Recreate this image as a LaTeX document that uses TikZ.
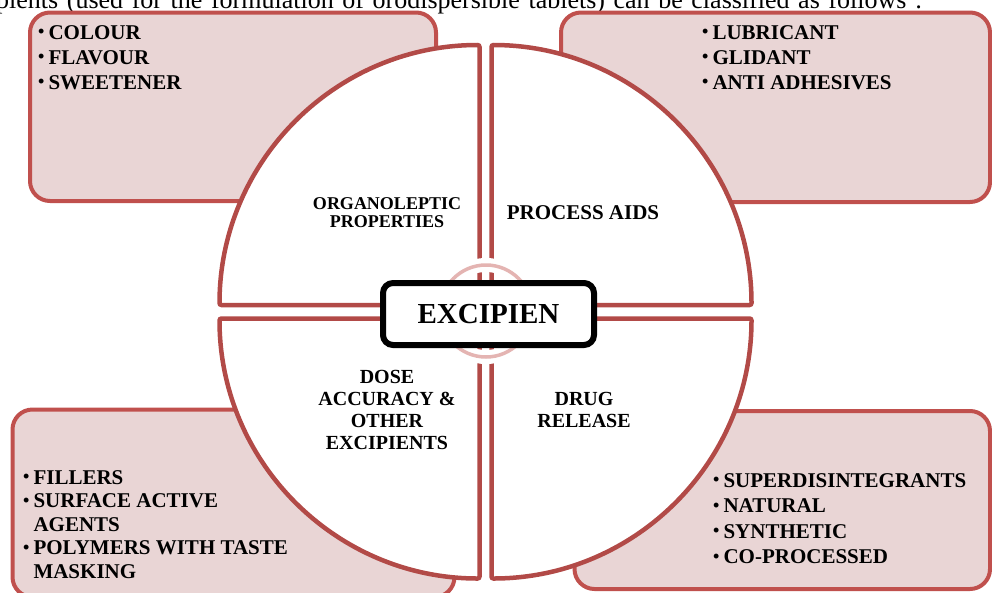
\documentclass[tikz,border=0pt]{standalone}
\usepackage{fontspec}
\setmainfont{Liberation Serif}
\usepackage{tikz}
\definecolor{boxred}{RGB}{192,80,77}
\definecolor{quadred}{RGB}{178,74,71}
\definecolor{boxfill}{RGB}{233,213,213}
\definecolor{ringpink}{RGB}{228,180,178}
\newcommand{\bul}{\raisebox{1.5pt}{\fontsize{18}{18}\selectfont\textbullet}\hspace{4pt}}

\begin{document}
\begin{tikzpicture}[x=1pt, y=-1pt, every node/.style={inner sep=0pt},
  outbox/.style={draw=boxred, line width=4pt, fill=boxfill, rounded corners=20pt},
  quarter/.style={draw=quadred, line width=4.5pt, fill=white, rounded corners=2pt},
  listtext/.style={align=left, anchor=north west, font=\fontsize{21}{25}\selectfont\bfseries},
  quartertext/.style={align=center, font=\fontsize{20}{22}\selectfont\bfseries}]
\useasboundingbox (0,0) rectangle (992,592);
\node[anchor=base west, font=\fontsize{26}{28}\selectfont] (intro) at (-4,8)
  {\makebox[926pt][s]{pients (used for the formulation of orodispersible tablets) can be classified as follows :}};
\draw[outbox] (30,12.5) rectangle (436,201);
\draw[outbox] (561,12.5) rectangle (990,202);
\draw[outbox] (12.5,409.5) rectangle (454.5,597);
\draw[outbox] (574.5,411) rectangle (990,589);
\foreach \cx/\cy/\a/\b in {479.5/305/180/270, 491.5/305/0/-90, 479.5/318.5/180/90, 491.5/318.5/0/90}
  \draw[quarter] (\cx,\cy) -- ++(\a:260) arc[start angle=\a, end angle=\b, radius=260] -- cycle;
\draw[white, line width=14pt] (486,311) circle[radius=46];
\draw[ringpink, line width=3.5pt] (486,311) circle[radius=46];
\node[draw, line width=6pt, rounded corners=10pt, fill=white, minimum width=211pt, minimum height=62pt,
  font=\fontsize{29}{29}\selectfont\bfseries] (excip) at (488.5,314) {EXCIPIEN};
\node[quartertext, font=\fontsize{18}{18}\selectfont\bfseries] (organo) at (387,213) {ORGANOLEPTIC\\PROPERTIES};
\node[quartertext, font=\fontsize{21}{22}\selectfont\bfseries] (process) at (583,212.5) {PROCESS AIDS};
\node[quartertext] (dose) at (387,410) {DOSE\\ACCURACY \&\\OTHER\\EXCIPIENTS};
\node[quartertext] (drug) at (584,409.5) {DRUG\\RELEASE};
\node[listtext] (organolist) at (38,25) {\bul COLOUR\\\bul FLAVOUR\\\bul SWEETENER};
\node[listtext] (processlist) at (702,25) {\bul LUBRICANT\\\bul GLIDANT\\\bul ANTI ADHESIVES};
\node[listtext, font=\fontsize{21}{23.5}\selectfont\bfseries] (doselist) at (23,470)
  {\bul FILLERS\\\bul SURFACE ACTIVE\\\hphantom{\bul}AGENTS\\\bul POLYMERS WITH TASTE\\\hphantom{\bul}MASKING};
\node[listtext, font=\fontsize{21}{25.5}\selectfont\bfseries] (druglist) at (713,473)
  {\bul SUPERDISINTEGRANTS\\\bul NATURAL\\\bul SYNTHETIC\\\bul CO-PROCESSED};
\end{tikzpicture}
\end{document}
